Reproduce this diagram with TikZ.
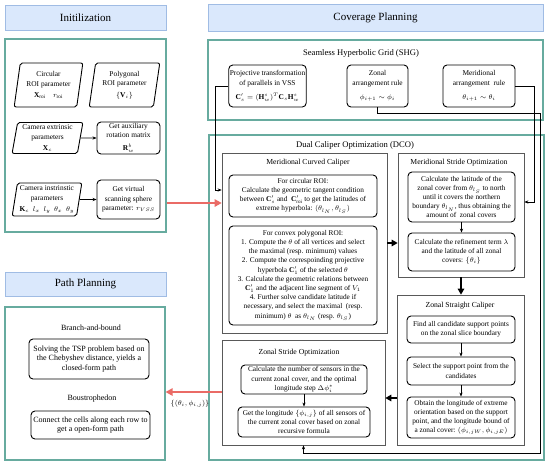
\documentclass[tikz,border=0pt]{standalone}
\usepackage{fontspec}
\setmainfont{Liberation Serif}
\usetikzlibrary{shapes.geometric,arrows.meta,calc}
\definecolor{grn}{RGB}{103,171,159}
\definecolor{hdrfill}{RGB}{218,232,252}
\definecolor{hdrdraw}{RGB}{160,188,228}
\definecolor{redarr}{RGB}{234,107,102}
\newcommand{\ftsm}{\fontsize{7.3}{9.2}\selectfont}
\newcommand{\ftin}{\fontsize{7.4}{9.6}\selectfont}
\newcommand{\ftpp}{\fontsize{8}{9.7}\selectfont}
\newcommand{\ftsub}{\fontsize{7.7}{9}\selectfont}
\newcommand{\ftttl}{\fontsize{8.6}{10}\selectfont}
\newcommand{\fthead}{\fontsize{11}{13}\selectfont}
\begin{document}
\begin{tikzpicture}[x=1pt,y=-1pt,
  hdr/.style={draw=hdrdraw, fill=hdrfill, line width=0.8pt, inner sep=0pt, font=\fthead},
  grnbox/.style={draw=grn, line width=1.2pt, inner sep=0pt},
  rb/.style={draw, rounded corners=4pt, line width=0.9pt, align=center, inner sep=1pt, font=\ftsm},
  pgram/.style={trapezium, trapezium left angle=80, trapezium right angle=100, trapezium stretches=true, draw, line width=0.9pt, rounded corners=2pt, align=center, inner sep=0.5pt, font=\ftin},
  gb/.style={draw=black!65, line width=0.7pt, inner sep=0pt},
  ttl/.style={font=\ftttl, inner sep=0pt},
  sub/.style={font=\ftsub, inner sep=0pt},
  ar/.style={-{Stealth[length=4pt,width=3.2pt]}, line width=0.6pt},
  thk/.style={-{Triangle[length=6pt,width=6.5pt]}, line width=1.6pt},
  redar/.style={-{Triangle[length=7pt,width=7.5pt]}, line width=1.4pt, draw=redarr}]
\useasboundingbox (0,0) rectangle (550,467);

% headers and green containers
\node[hdr, minimum width=161pt, minimum height=25pt] (hinit) at (85.5,17.5) {Initilization};
\node[grnbox, minimum width=161pt, minimum height=193pt] (ginit) at (85.5,135.5) {};
\node[hdr, minimum width=161pt, minimum height=24pt] (hpath) at (85.5,284) {Path Planning};
\node[grnbox, minimum width=160pt, minimum height=153pt] (gpath) at (85,383.5) {};
\node[hdr, minimum width=335pt, minimum height=27pt] (hcov) at (375.5,17.5) {Coverage Planning};
\node[grnbox, minimum width=335pt, minimum height=80pt] (gshg) at (375.5,80) {};
\node[grnbox, minimum width=335pt, minimum height=325pt] (gdco) at (376.5,297.5) {};

\node[ttl] (tshg) at (361,53) {Seamless Hyperbolic Grid (SHG)};
\node[ttl] (tdco) at (355,145) {Dual Caliper Optimization (DCO)};

% Initialization
\node[pgram, minimum width=69pt, minimum height=44pt] (circ) at (48.5,85) {Circular\\ROI parameter\\[1.5pt]$\mathbf{X}_{\mathrm{roi}}$\quad$r_{\mathrm{roi}}$};
\node[pgram, minimum width=71pt, minimum height=44pt] (poly) at (124.5,85) {Polygonal\\ROI parameter\\[1.5pt]$\{\mathbf{V}_i\}$};
\node[pgram, minimum width=71pt, minimum height=31pt] (cext) at (47.5,138) {Camera extrinsic\\parameters\\[1pt]$\mathbf{X}_c$};
\node[rb, font=\ftin, minimum width=63pt, minimum height=32pt] (caux) at (128.5,138) {Get auxiliary\\rotation matrix\\[3.5pt]$\mathbf{R}^b_w$};
\node[pgram, minimum width=70pt, minimum height=33pt] (cint) at (47,199.5) {Camera instrinstic\\parameters\\[1pt]$\mathbf{K}_c\ \ l_x\ \ l_y\ \ \theta_x\ \ \theta_y$};
\node[rb, font=\ftin, minimum width=63pt, minimum height=39pt] (cvir) at (128.5,199.5) {Get virtual\\scanning sphere\\parameter: $r_{VSS}$};
\draw[ar] (cext) -- (caux);
\draw[ar] (cint) -- (cvir);

% Path planning
\node[sub, font=\ftpp] (tbb) at (91,328) {Branch-and-bound};
\node[rb, font=\ftpp, minimum width=120pt, minimum height=40pt] (bb) at (89,359) {Solving the TSP problem based on\\the Chebyshev distance, yields a\\closed-form path};
\node[sub, font=\ftpp] (tbo) at (92,399) {Boustrophedon};
\node[rb, font=\ftpp, minimum width=119pt, minimum height=28pt] (bo) at (90.5,425) {Connect the cells along each row to\\get a open-form path};

% SHG
\node[rb, font=\ftin, minimum width=75pt, minimum height=42pt] (s1) at (267.5,86) {Projective transformation\\of parallels in VSS\\[4.5pt]$\mathbf{C}'_s=(\mathbf{H}^s_w)^T\mathbf{C}_s\mathbf{H}^s_w$};
\node[rb, font=\ftin, minimum width=61pt, minimum height=42pt] (s2) at (377.5,86) {Zonal\\arrangement rule\\[4.5pt]$\phi_{i+1}\sim\phi_i$};
\node[rb, font=\ftin, minimum width=72pt, minimum height=42pt] (s3) at (479,86) {Meridional\\arrangement\ \ rule\\[4.5pt]$\theta_{i+1}\sim\theta_i$};

% Meridional Curved Caliper
\node[gb, minimum width=165pt, minimum height=180pt] (mcc) at (304.5,243) {};
\node[sub] (tmcc) at (308,163) {Meridional Curved Caliper};
\node[rb, minimum width=148pt, minimum height=42pt] (mc1) at (303,196) {For circular ROI:\\Calculate the geometric tangent condition\\between $\mathbf{C}'_s$ and\ \ $\mathbf{C}'_{\mathrm{roi}}$ to get the latitudes of\\extreme hyperbola: $(\theta_{l_N},\theta_{l_S})$};
\node[rb, minimum width=148pt, minimum height=99pt] (mc2) at (303,275.5) {For convex polygonal ROI:\\1. Compute the $\theta$ of all vertices and select\\the maximal (resp. minimum) values\\2. Compute the correspoinding projective\\hyperbola $\mathbf{C}'_1$ of the selected $\theta$\\3. Calculate the geometric relations between\\$\mathbf{C}'_1$ and the adjacent line segment of $V_1$\\4. Further solve candidate latitude if\\necessary, and select the maximal\ \ (resp.\\minimum) $\theta$\ \ as $\theta_{l_N}$ (resp. $\theta_{l_S}$)};

% Meridional Stride Optimization
\node[gb, minimum width=126pt, minimum height=124pt] (mso) at (461,215) {};
\node[sub] (tmso) at (459,163) {Meridional Stride Optimization};
\node[rb, minimum width=107pt, minimum height=50pt] (ms1) at (461.5,197) {Calculate the latitude of the\\zonal cover from $\theta_{l_S}$ to north\\until it covers the northern\\boundary $\theta_{l_N}$, thus obtaining the\\amount of\ \ zonal covers};
\node[rb, minimum width=107pt, minimum height=38pt] (ms2) at (461.5,252) {Calculate the refinement term $\lambda$\\and the latitude of all zonal\\covers: $\{\theta_i\}$};
\draw[ar] (ms1) -- (ms2);

% Zonal Straight Caliper
\node[gb, minimum width=127pt, minimum height=150pt] (zsc) at (461,370) {};
\node[sub] (tzsc) at (460,306) {Zonal Straight Caliper};
\node[rb, minimum width=108pt, minimum height=27pt] (zc1) at (461,329.5) {Find all candidate support points\\on the zonal slice boundary};
\node[rb, minimum width=108pt, minimum height=28pt] (zc2) at (461,371) {Select the support point from the\\candidates};
\node[rb, minimum width=108pt, minimum height=41pt] (zc3) at (461,417.5) {Obtain the longitude of extreme\\orientation based on the support\\point, and the longitude bound of\\a zonal cover: $(\phi_{i,jW},\phi_{i,jE})$};
\draw[ar] (zc1) -- (zc2);
\draw[ar] (zc2) -- (zc3);

% Zonal Stride Optimization
\node[gb, minimum width=163pt, minimum height=105pt] (zso) at (303.5,392.5) {};
\node[sub] (tzso) at (299,353) {Zonal Stride Optimization};
\node[rb, minimum width=126pt, minimum height=29pt] (zo1) at (304,379.5) {Calculate the number of sensors in the\\current zonal cover, and the optimal\\longitude step $\Delta\phi_i^*$};
\node[rb, minimum width=132pt, minimum height=30pt] (zo2) at (304,422) {Get the longitude $\{\phi_{i,j}\}$ of all sensors of\\the current zonal cover based on zonal\\recursive formula};
\draw[ar] (zo1) -- (zo2);

% connectors
\draw[ar] (s1.west) -- ++(-13,0) |- (mcc.west |- 0,190);
\draw[ar] (s2.south) |- (540,113) -- (540,453) -| (zso.south);
\draw[ar] (s3.east) -| (534,202) -- (mso.east |- 0,202);
\draw[thk] (mcc.east |- 0,243) -- (mso.west |- 0,243);
\draw[thk] (mso.south) -- (zsc.north);
\draw[thk] (zsc.west |- 0,398) -- (zso.east |- 0,398);
\draw[redar] (ginit.east |- 0,203) -- (mcc.west |- 0,203);
\draw[redar] (zso.west |- 0,392) -- (gpath.east |- 0,392);
\node[font=\ftsm, inner sep=0pt] (lab) at (190,404) {$\{(\theta_i,\phi_{i,j})\}$};
\end{tikzpicture}
\end{document}
